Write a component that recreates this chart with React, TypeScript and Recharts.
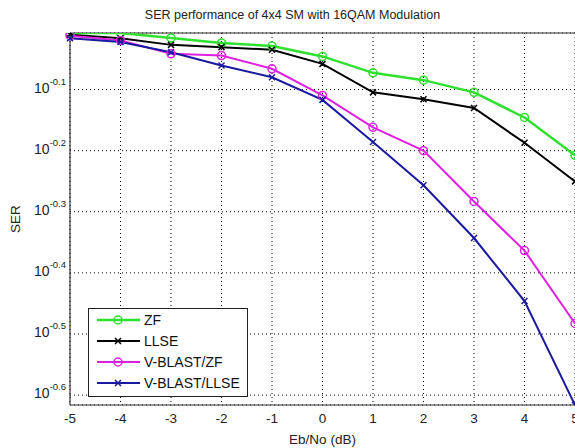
import React from 'react';
import { LineChart, Line, XAxis, YAxis, CartesianGrid, ReferenceLine, Label } from 'recharts';

const ebNo = [-5, -4, -3, -2, -1, 0, 1, 2, 3, 4, 5];
const zf = [0.983, 0.983, 0.965, 0.947, 0.936, 0.9, 0.846, 0.823, 0.786, 0.715, 0.62];
const llse = [0.977, 0.964, 0.94, 0.932, 0.923, 0.875, 0.786, 0.766, 0.741, 0.65, 0.562];
const vblastZf = [0.973, 0.956, 0.909, 0.903, 0.859, 0.777, 0.689, 0.631, 0.521, 0.433, 0.329];
const vblastLlse = [0.964, 0.95, 0.914, 0.87, 0.832, 0.764, 0.652, 0.554, 0.454, 0.358, 0.242];
const yTickExps = ['-0.6', '-0.5', '-0.4', '-0.3', '-0.2', '-0.1'];
const xTicks = [-5, -4, -3, -2, -1, 0, 1, 2, 3, 4, 5];

const series = [
  { key: 'zf', name: 'ZF', color: '#2fe02f', width: 2.5, marker: 'circle' },
  { key: 'llse', name: 'LLSE', color: '#000000', width: 2, marker: 'x' },
  { key: 'vbzf', name: 'V-BLAST/ZF', color: '#e020e0', width: 2, marker: 'circle' },
  { key: 'vbllse', name: 'V-BLAST/LLSE', color: '#1a1aa0', width: 2, marker: 'x' },
];

const data = ebNo.map((x, i) => ({
  x,
  zf: zf[i],
  llse: llse[i],
  vbzf: vblastZf[i],
  vbllse: vblastLlse[i],
}));

const yTicks = yTickExps.map((e) => Math.pow(10, parseFloat(e)));
const allVals = [...zf, ...llse, ...vblastZf, ...vblastLlse];
const yMin = Math.min(...allVals);
const yMax = Math.max(...allVals);

const FONT = '"Liberation Sans", Arial, sans-serif';

const makeDot = (color: string, marker: string) => (props: any) => {
  const { cx, cy, index } = props;
  if (cx == null || cy == null) return <g key={index} />;
  if (marker === 'circle') {
    return <circle key={index} cx={cx} cy={cy} r={4} fill="none" stroke={color} strokeWidth={1.5} />;
  }
  const s = 3;
  return (
    <path
      key={index}
      d={`M${cx - s},${cy - s}L${cx + s},${cy + s}M${cx - s},${cy + s}L${cx + s},${cy - s}`}
      stroke={color}
      strokeWidth={1.5}
      fill="none"
    />
  );
};

const YTick = (props: any) => {
  const { y, payload } = props;
  const idx = yTicks.findIndex((t) => Math.abs(t - payload.value) < 1e-9);
  const exp = idx >= 0 ? yTickExps[idx] : '';
  return (
    <text x={66} y={y + 3} textAnchor="end" fontFamily={FONT} fontSize={14} fill="#222">
      <tspan>10</tspan>
      <tspan dy={-8} fontSize={9.5}>{exp}</tspan>
    </text>
  );
};

const XTick = (props: any) => {
  const { x, payload } = props;
  return (
    <text x={x} y={423} textAnchor="middle" fontFamily={FONT} fontSize={13.5} fill="#222">
      {payload.value}
    </text>
  );
};

const LegendBox = () => (
  <svg width={161} height={90} style={{ display: 'block' }}>
    <rect x={0.5} y={0.5} width={159} height={88} fill="#fff" stroke="#222" strokeWidth={1} />
    {series.map((s, i) => {
      const cy = 12 + i * 21;
      return (
        <g key={s.key}>
          <line x1={9} y1={cy} x2={52} y2={cy} stroke={s.color} strokeWidth={s.width} />
          {s.marker === 'circle' ? (
            <circle cx={30} cy={cy} r={4} fill="none" stroke={s.color} strokeWidth={1.5} />
          ) : (
            <path d={`M27,${cy - 3}L33,${cy + 3}M27,${cy + 3}L33,${cy - 3}`} stroke={s.color} strokeWidth={1.5} />
          )}
          <text x={56} y={cy + 5} fontFamily={FONT} fontSize={14} fill="#111">
            {s.name}
          </text>
        </g>
      );
    })}
  </svg>
);

export default function App() {
  return (
    <div style={{ position: 'absolute', left: 0, top: 0, width: 575, height: 448, overflow: 'hidden', background: '#fff' }}>
      <div
        style={{
          position: 'absolute',
          left: 0,
          top: 8,
          width: 575,
          textAlign: 'center',
          fontFamily: FONT,
          fontSize: 12.5,
          color: '#222',
          paddingLeft: 10,
          boxSizing: 'border-box',
        }}
      >
        SER performance of 4x4 SM with 16QAM Modulation
      </div>
      <LineChart width={590} height={448} data={data} margin={{ top: 33, right: 15, bottom: 0, left: 0 }}>
        <CartesianGrid stroke="#000" strokeDasharray="1 3" />
        <XAxis
          dataKey="x"
          type="number"
          domain={[-5, 5]}
          ticks={xTicks}
          height={43}
          tickLine={false}
          axisLine={{ stroke: '#333', strokeWidth: 1.2 }}
          tick={<XTick />}
          interval={0}
        >
          <Label value="Eb/No (dB)" position="insideBottom" offset={4} style={{ fontFamily: FONT, fontSize: 13.5, fill: '#222' }} />
        </XAxis>
        <YAxis
          type="number"
          scale="log"
          domain={[yMin, yMax]}
          allowDataOverflow
          ticks={yTicks}
          width={70}
          tickLine={false}
          axisLine={{ stroke: '#333', strokeWidth: 1.2 }}
          tick={<YTick />}
          interval={0}
        >
          <Label value="SER" angle={-90} position="insideLeft" offset={15} style={{ fontFamily: FONT, fontSize: 13.5, fill: '#222', textAnchor: 'middle' }} />
        </YAxis>
        <ReferenceLine y={yMax} stroke="#333" strokeWidth={1} />
        {series.map((s) => (
          <Line
            key={s.key}
            dataKey={s.key}
            name={s.name}
            stroke={s.color}
            strokeWidth={s.width}
            dot={makeDot(s.color, s.marker)}
            activeDot={false}
            isAnimationActive={false}
          />
        ))}
      </LineChart>
      <div style={{ position: 'absolute', left: 88, top: 308 }}>
        <LegendBox />
      </div>
    </div>
  );
}
